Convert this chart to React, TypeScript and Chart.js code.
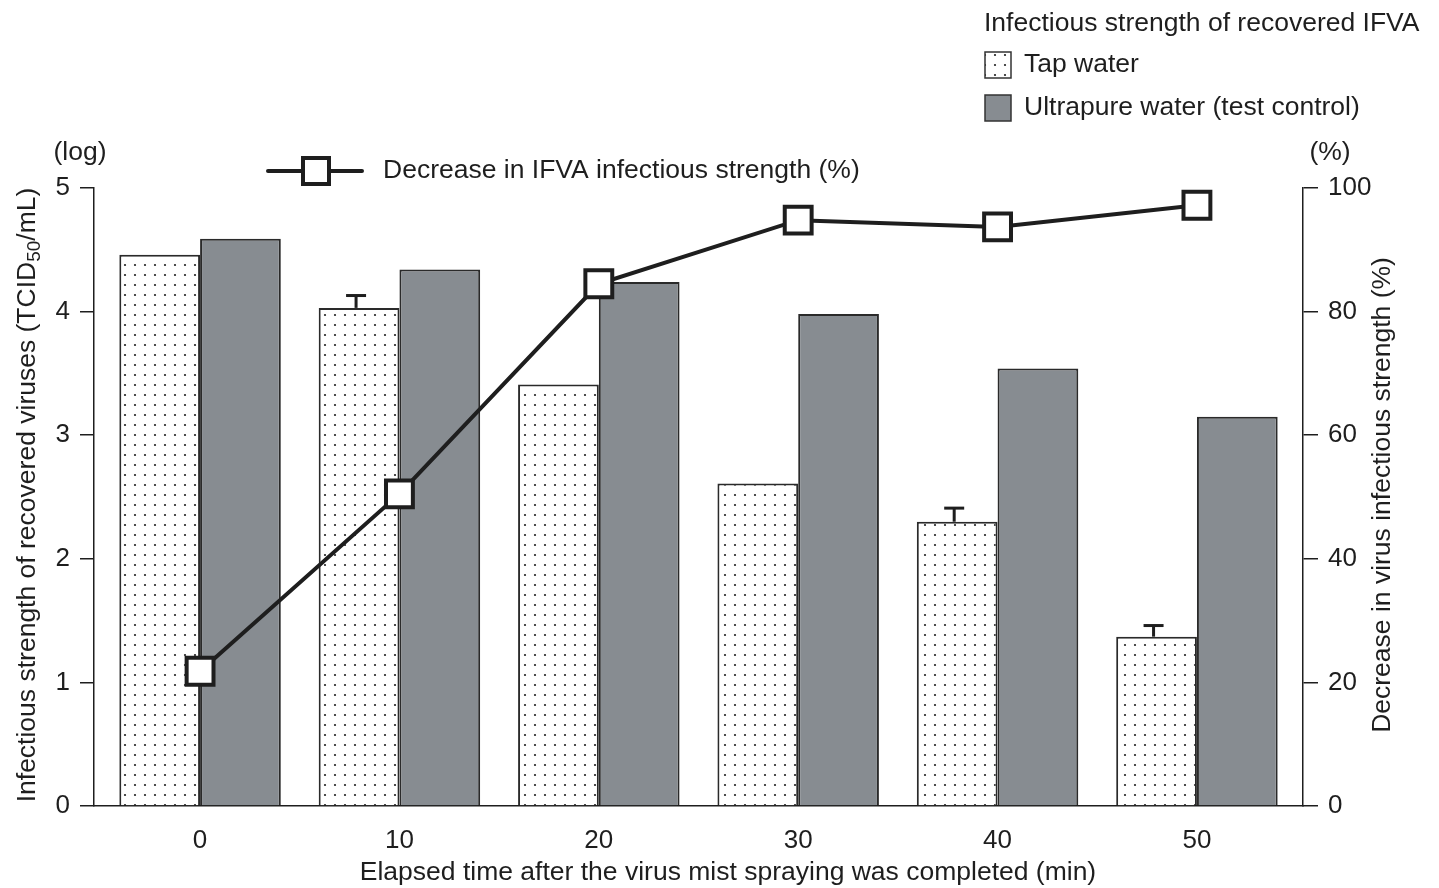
import React, { useEffect, useRef } from "react";
import { Chart, registerables } from "chart.js";
Chart.register(...registerables);

const times = [0, 10, 20, 30, 40, 50];
const tapWater = [4.46, 4.03, 3.41, 2.61, 2.3, 1.37];
const tapWaterErrTop = [null, 4.13, null, null, 2.41, 1.46];
const ultrapure = [4.59, 4.34, 4.24, 3.98, 3.54, 3.15];
const decrease = [21.8, 50.5, 84.5, 94.8, 93.7, 97.2];
const leftTicks = [0, 1, 2, 3, 4, 5];
const rightTicks = [0, 20, 40, 60, 80, 100];

const FONT = "'Liberation Sans', Arial, Helvetica, sans-serif";
const INK = "#1e1e1e";
const GREY = "#878c91";
const FS = 26.5;

function makeDots(): CanvasPattern | string {
  const c = document.createElement("canvas");
  c.width = 10;
  c.height = 10;
  const g = c.getContext("2d");
  if (!g) return "#fff";
  g.fillStyle = "#fff";
  g.fillRect(0, 0, 10, 10);
  g.fillStyle = "#222";
  g.beginPath();
  g.arc(5, 5, 1.1, 0, Math.PI * 2);
  g.fill();
  const ctx = document.createElement("canvas").getContext("2d");
  return (ctx && ctx.createPattern(c, "repeat")) || "#fff";
}

export default function App() {
  const ref = useRef<HTMLCanvasElement | null>(null);
  useEffect(() => {
    if (!ref.current) return;
    const dots = makeDots();

    const decor = {
      id: "decor",
      afterDatasetDraw(chart: any, args: any) {
        if (args.index !== 0) return;
        const ctx = chart.ctx;
        const meta = chart.getDatasetMeta(0);
        const y = chart.scales.y;
        ctx.save();
        ctx.strokeStyle = INK;
        tapWaterErrTop.forEach((v, i) => {
          if (v == null) return;
          const el = meta.data[i];
          const cx = el.x - 3;
          const top = y.getPixelForValue(v);
          ctx.lineWidth = 3;
          ctx.beginPath();
          ctx.moveTo(cx - 10, top);
          ctx.lineTo(cx + 10, top);
          ctx.stroke();
          ctx.beginPath();
          ctx.moveTo(cx, top);
          ctx.lineTo(cx, el.y);
          ctx.stroke();
        });
        ctx.restore();
      },
      afterDraw(chart: any) {
        const ctx = chart.ctx;
        ctx.save();
        ctx.fillStyle = INK;
        ctx.font = `${FS}px ${FONT}`;
        ctx.textBaseline = "middle";
        ctx.textAlign = "center";
        ctx.fillText("(log)", 80, 153);
        ctx.fillText("(%)", 1330, 153);
        ctx.fillText("Elapsed time after the virus mist spraying was completed (min)", 728, 873);

        // right title
        ctx.save();
        ctx.translate(1383, 495);
        ctx.rotate(-Math.PI / 2);
        ctx.fillText("Decrease in virus infectious strength (%)", 0, 0);
        ctx.restore();

        // left title with subscript
        ctx.save();
        ctx.translate(28, 495);
        ctx.rotate(-Math.PI / 2);
        const p1 = "Infectious strength of recovered viruses (TCID";
        const p2 = "50";
        const p3 = "/mL)";
        ctx.font = `${FS}px ${FONT}`;
        const w1 = ctx.measureText(p1).width;
        const w3 = ctx.measureText(p3).width;
        ctx.font = `19px ${FONT}`;
        const w2 = ctx.measureText(p2).width;
        const total = w1 + w2 + w3;
        const x0 = -total / 2;
        ctx.textAlign = "left";
        ctx.font = `${FS}px ${FONT}`;
        ctx.fillText(p1, x0, 0);
        ctx.font = `19px ${FONT}`;
        ctx.fillText(p2, x0 + w1, 7);
        ctx.font = `${FS}px ${FONT}`;
        ctx.fillText(p3, x0 + w1 + w2, 0);
        ctx.restore();

        // line legend
        ctx.strokeStyle = INK;
        ctx.lineWidth = 4;
        ctx.lineCap = "round";
        ctx.beginPath();
        ctx.moveTo(268, 171);
        ctx.lineTo(362, 171);
        ctx.stroke();
        ctx.lineCap = "butt";
        ctx.fillStyle = "#fff";
        ctx.fillRect(303, 158, 26, 26);
        ctx.strokeRect(303, 158, 26, 26);
        ctx.fillStyle = INK;
        ctx.textAlign = "left";
        ctx.fillText("Decrease in IFVA infectious strength (%)", 383, 171);

        // top-right legend
        ctx.fillText("Infectious strength of recovered IFVA", 984, 24);
        ctx.fillText("Tap water", 1024, 65);
        ctx.fillText("Ultrapure water (test control)", 1024, 108);
        ctx.lineWidth = 1.5;
        ctx.strokeStyle = "#333";
        ctx.fillStyle = dots as any;
        ctx.fillRect(985, 52, 26, 26);
        ctx.strokeRect(985, 52, 26, 26);
        ctx.fillStyle = GREY;
        ctx.fillRect(985, 95, 26, 26);
        ctx.strokeRect(985, 95, 26, 26);
        ctx.restore();
      },
    };

    const chart = new Chart(ref.current, {
      type: "bar",
      data: {
        datasets: [
          {
            type: "bar",
            label: "Tap water",
            data: times.map((t, i) => ({ x: t, y: tapWater[i] })),
            backgroundColor: dots as any,
            borderColor: "#2a2a2a",
            borderWidth: 2,
            yAxisID: "y",
            order: 1,
            categoryPercentage: 0.81,
            barPercentage: 1,
          },
          {
            type: "bar",
            label: "Ultrapure water (test control)",
            data: times.map((t, i) => ({ x: t, y: ultrapure[i] })),
            backgroundColor: GREY,
            borderColor: "#2a2a2a",
            borderWidth: 2,
            yAxisID: "y",
            order: 1,
            categoryPercentage: 0.81,
            barPercentage: 1,
          },
          {
            type: "line",
            label: "Decrease in IFVA infectious strength (%)",
            data: times.map((t, i) => ({ x: t, y: decrease[i] })),
            borderColor: INK,
            borderWidth: 4,
            pointStyle: "rect",
            pointRadius: 19,
            pointBackgroundColor: "#fff",
            pointBorderColor: INK,
            pointBorderWidth: 4,
            yAxisID: "y2",
            order: 0,
          } as any,
        ],
      },
      options: {
        animation: false,
        responsive: false,
        maintainAspectRatio: false,
        layout: { padding: { top: 188, left: 0, right: 0, bottom: 0 } },
        plugins: { legend: { display: false }, tooltip: { enabled: false } },
        scales: {
          x: {
            type: "linear",
            min: -5.32,
            max: 55.32,
            offset: false,
            afterBuildTicks: (s: any) => {
              s.ticks = times.map((v) => ({ value: v }));
            },
            afterFit: (s: any) => {
              s.height = 82;
            },
            grid: { display: false, offset: false, drawTicks: false },
            border: { display: true, color: INK, width: 1.5 },
            ticks: {
              color: INK,
              font: { family: FONT, size: 26 },
              padding: 19,
            },
          },
          y: {
            type: "linear",
            position: "left",
            min: 0,
            max: 5,
            afterBuildTicks: (s: any) => {
              s.ticks = leftTicks.map((v) => ({ value: v }));
            },
            afterFit: (s: any) => {
              s.width = 94;
            },
            grid: {
              drawOnChartArea: false,
              drawTicks: true,
              tickLength: 14,
              color: INK,
              lineWidth: 1.5,
            },
            border: { display: true, color: INK, width: 1.5 },
            ticks: {
              color: INK,
              font: { family: FONT, size: 26 },
              padding: 10,
            },
          },
          y2: {
            type: "linear",
            position: "right",
            min: 0,
            max: 100,
            afterBuildTicks: (s: any) => {
              s.ticks = rightTicks.map((v) => ({ value: v }));
            },
            afterFit: (s: any) => {
              s.width = 136;
            },
            grid: {
              drawOnChartArea: false,
              drawTicks: true,
              tickLength: 15,
              color: INK,
              lineWidth: 1.5,
            },
            border: { display: true, color: INK, width: 1.5 },
            ticks: {
              color: INK,
              font: { family: FONT, size: 26 },
              padding: 10,
            },
          },
        },
      },
      plugins: [decor],
    } as any);
    return () => chart.destroy();
  }, []);

  return (
    <div style={{ position: "fixed", left: 0, top: 0, width: 1439, height: 888, background: "#fff" }}>
      <canvas ref={ref} width={1439} height={888} style={{ width: 1439, height: 888, display: "block" }} />
    </div>
  );
}
